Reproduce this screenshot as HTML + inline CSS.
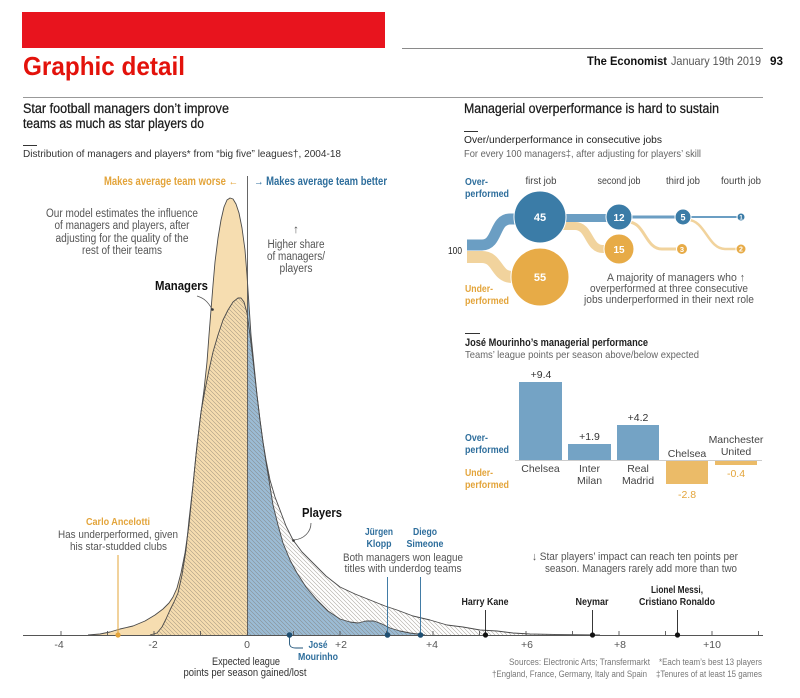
<!DOCTYPE html>
<html><head><meta charset="utf-8"><style>
html,body{margin:0;padding:0;background:#fff;}
svg{display:block;}
text{font-family:"Liberation Sans",Arial,sans-serif;}
</style></head><body>
<svg width="800" height="698" viewBox="0 0 800 698" xmlns="http://www.w3.org/2000/svg">
<defs>
<pattern id="h" patternUnits="userSpaceOnUse" width="4" height="4">
<path d="M-1,-1L5,5M-1,3L1,5M3,-1L5,1" stroke="#7a7266" stroke-width="0.6" opacity="0.62"/>
</pattern>
<clipPath id="cl"><rect x="0" y="0" width="247.5" height="640"/></clipPath>
<clipPath id="cr"><rect x="247.5" y="0" width="553" height="640"/></clipPath>
</defs>

<!-- Header -->
<rect x="22" y="12" width="363" height="36" fill="#e8141e"/>
<line x1="402" y1="48.5" x2="763" y2="48.5" stroke="#8a8a8a" stroke-width="1"/>
<text x="23" y="75" font-size="26" font-weight="bold" fill="#e3120b" textLength="162" lengthAdjust="spacingAndGlyphs">Graphic detail</text>
<text x="587" y="65" font-size="12" font-weight="bold" fill="#111" textLength="80" lengthAdjust="spacingAndGlyphs">The Economist</text>
<text x="671" y="65" font-size="12" fill="#555" textLength="90" lengthAdjust="spacingAndGlyphs">January 19th 2019</text>
<text x="770" y="65" font-size="12" font-weight="bold" fill="#111" textLength="13" lengthAdjust="spacingAndGlyphs">93</text>
<line x1="23" y1="97.5" x2="763" y2="97.5" stroke="#999" stroke-width="1"/>

<!-- Left titles -->
<text x="23" y="113" font-size="13.5" fill="#1a1a1a" stroke="#1a1a1a" stroke-width="0.25" textLength="206" lengthAdjust="spacingAndGlyphs">Star football managers don’t improve</text>
<text x="23" y="128" font-size="13.5" fill="#1a1a1a" stroke="#1a1a1a" stroke-width="0.25" textLength="181" lengthAdjust="spacingAndGlyphs">teams as much as star players do</text>
<line x1="23" y1="145.5" x2="37" y2="145.5" stroke="#333" stroke-width="1"/>
<text x="23" y="157" font-size="10.5" fill="#333" textLength="318" lengthAdjust="spacingAndGlyphs">Distribution of managers and players* from “big five” leagues†, 2004-18</text>

<!-- Right titles -->
<text x="464" y="113" font-size="13.5" fill="#1a1a1a" stroke="#1a1a1a" stroke-width="0.25" textLength="255" lengthAdjust="spacingAndGlyphs">Managerial overperformance is hard to sustain</text>
<line x1="464" y1="131.5" x2="478" y2="131.5" stroke="#333" stroke-width="1"/>
<text x="464" y="143" font-size="10.5" fill="#222" textLength="198" lengthAdjust="spacingAndGlyphs">Over/underperformance in consecutive jobs</text>
<text x="464" y="157" font-size="10.5" fill="#666" textLength="237" lengthAdjust="spacingAndGlyphs">For every 100 managers‡, after adjusting for players’ skill</text>

<!-- Density chart fills -->
<g>
<path clip-path="url(#cl)" fill="#f6ddb0" d="M88,635 L100,634 L110,632 L120,629 L133,626 L145,621 L155,615 L163,609 L169,603 L173,597 L177,588 L181,573 L185,553 L189,525 L192,495 L196,455 L200,420 L204,390 L207,362 L209,335 L211,310 L213,285 L215,262 L218,238 L221,220 L224,207 L227,200 L230,198 L233,199 L236,204 L239,213 L242,228 L245,250 L247,275 L249,305 L251,335 L254,365 L257,395 L260,420 L263,442 L266,462 L269,480 L273,505 L278,525 L283,543 L290,560 L297,573 L306,587 L317,600 L328,611 L340,619 L350,622 L358,623 L366,621 L374,621 L382,624 L390,628 L400,631 L410,633 L425,635 Z"/>
<path clip-path="url(#cr)" fill="#9bbcd5" d="M88,635 L100,634 L110,632 L120,629 L133,626 L145,621 L155,615 L163,609 L169,603 L173,597 L177,588 L181,573 L185,553 L189,525 L192,495 L196,455 L200,420 L204,390 L207,362 L209,335 L211,310 L213,285 L215,262 L218,238 L221,220 L224,207 L227,200 L230,198 L233,199 L236,204 L239,213 L242,228 L245,250 L247,275 L249,305 L251,335 L254,365 L257,395 L260,420 L263,442 L266,462 L269,480 L273,505 L278,525 L283,543 L290,560 L297,573 L306,587 L317,600 L328,611 L340,619 L350,622 L358,623 L366,621 L374,621 L382,624 L390,628 L400,631 L410,633 L425,635 Z"/>
<path fill="url(#h)" d="M150,635 L157,633 L162,627 L166,619 L170,610 L174,602 L178,593 L182,575 L186,550 L189,520 L193,485 L197,445 L201,412 L205,390 L209,370 L213,352 L218,335 L223,320 L228,310 L233,302 L238,298 L241,298 L244,302 L247,313 L250,335 L253,360 L257,395 L260,420 L263,442 L266,460 L270,480 L275,497 L280,510 L286,526 L293,540 L302,552 L313,563 L326,576 L340,587 L355,594 L370,600 L385,606 L397,610 L413,616 L430,620 L447,625 L463,627 L480,630 L497,631 L513,633 L530,634 L560,634.6 L600,635 Z"/>
<path fill="none" stroke="#4a4a4a" stroke-width="0.9" stroke-linejoin="round" d="M88,635 L100,634 L110,632 L120,629 L133,626 L145,621 L155,615 L163,609 L169,603 L173,597 L177,588 L181,573 L185,553 L189,525 L192,495 L196,455 L200,420 L204,390 L207,362 L209,335 L211,310 L213,285 L215,262 L218,238 L221,220 L224,207 L227,200 L230,198 L233,199 L236,204 L239,213 L242,228 L245,250 L247,275 L249,305 L251,335 L254,365 L257,395 L260,420 L263,442 L266,462 L269,480 L273,505 L278,525 L283,543 L290,560 L297,573 L306,587 L317,600 L328,611 L340,619 L350,622 L358,623 L366,621 L374,621 L382,624 L390,628 L400,631 L410,633 L425,635"/>
<path fill="none" stroke="#4a4a4a" stroke-width="0.9" stroke-linejoin="round" d="M150,635 L157,633 L162,627 L166,619 L170,610 L174,602 L178,593 L182,575 L186,550 L189,520 L193,485 L197,445 L201,412 L205,390 L209,370 L213,352 L218,335 L223,320 L228,310 L233,302 L238,298 L241,298 L244,302 L247,313 L250,335 L253,360 L257,395 L260,420 L263,442 L266,460 L270,480 L275,497 L280,510 L286,526 L293,540 L302,552 L313,563 L326,576 L340,587 L355,594 L370,600 L385,606 L397,610 L413,616 L430,620 L447,625 L463,627 L480,630 L497,631 L513,633 L530,634 L560,634.6 L600,635"/>
</g>

<!-- zero line -->
<line x1="247.5" y1="176" x2="247.5" y2="635" stroke="#555" stroke-width="0.9"/>

<!-- axis -->
<line x1="23" y1="635.5" x2="763" y2="635.5" stroke="#555" stroke-width="1"/>
<g stroke="#555" stroke-width="0.9">
<line x1="61" y1="631" x2="61" y2="635"/><line x1="107.5" y1="631" x2="107.5" y2="635"/><line x1="154" y1="631" x2="154" y2="635"/><line x1="200.5" y1="631" x2="200.5" y2="635"/><line x1="247.5" y1="631" x2="247.5" y2="635"/><line x1="293.5" y1="631" x2="293.5" y2="635"/><line x1="340" y1="631" x2="340" y2="635"/><line x1="386.5" y1="631" x2="386.5" y2="635"/><line x1="433" y1="631" x2="433" y2="635"/><line x1="479.5" y1="631" x2="479.5" y2="635"/><line x1="526" y1="631" x2="526" y2="635"/><line x1="572.5" y1="631" x2="572.5" y2="635"/><line x1="619" y1="631" x2="619" y2="635"/><line x1="665.5" y1="631" x2="665.5" y2="635"/><line x1="712" y1="631" x2="712" y2="635"/><line x1="758.5" y1="631" x2="758.5" y2="635"/>
</g>
<g font-size="10.5" fill="#555" text-anchor="middle">
<text x="59" y="648">-4</text><text x="153" y="648">-2</text><text x="247" y="648">0</text><text x="341" y="648">+2</text><text x="432" y="648">+4</text><text x="527" y="648">+6</text><text x="620" y="648">+8</text><text x="712" y="648">+10</text>
</g>
<text x="246" y="665" font-size="11" fill="#333" text-anchor="middle" textLength="68" lengthAdjust="spacingAndGlyphs">Expected league</text>
<text x="245" y="676" font-size="11" fill="#333" text-anchor="middle" textLength="123" lengthAdjust="spacingAndGlyphs">points per season gained/lost</text>

<!-- left chart annotations -->
<text x="104" y="185" font-size="11.5" font-weight="bold" fill="#e3a43a" textLength="134" lengthAdjust="spacingAndGlyphs">Makes average team worse ←</text>
<text x="254" y="185" font-size="11.5" font-weight="bold" fill="#2e6e9c" textLength="133" lengthAdjust="spacingAndGlyphs">→ Makes average team better</text>
<g font-size="11.5" fill="#555" text-anchor="middle">
<text x="122" y="217" textLength="152" lengthAdjust="spacingAndGlyphs">Our model estimates the influence</text>
<text x="122" y="229" textLength="135" lengthAdjust="spacingAndGlyphs">of managers and players, after</text>
<text x="122" y="242" textLength="133" lengthAdjust="spacingAndGlyphs">adjusting for the quality of the</text>
<text x="122" y="254" textLength="80" lengthAdjust="spacingAndGlyphs">rest of their teams</text>
<text x="296" y="233">↑</text>
<text x="296" y="248" textLength="57" lengthAdjust="spacingAndGlyphs">Higher share</text>
<text x="296" y="260" textLength="58" lengthAdjust="spacingAndGlyphs">of managers/</text>
<text x="296" y="272" textLength="33" lengthAdjust="spacingAndGlyphs">players</text>
</g>
<text x="155" y="290" font-size="13" font-weight="bold" fill="#111" textLength="53" lengthAdjust="spacingAndGlyphs">Managers</text>
<path d="M197,296 C204,298 208,302 212,309" fill="none" stroke="#555" stroke-width="0.8"/>
<circle cx="212.5" cy="309.5" r="1.3" fill="#333"/>
<text x="302" y="517" font-size="13" font-weight="bold" fill="#111" textLength="40" lengthAdjust="spacingAndGlyphs">Players</text>
<path d="M311,523 C311,532 304,539 294,540" fill="none" stroke="#555" stroke-width="0.8"/>
<circle cx="293.5" cy="540.5" r="1.3" fill="#333"/>

<!-- Ancelotti -->
<text x="86" y="525" font-size="10.5" font-weight="bold" fill="#e3a43a" textLength="64" lengthAdjust="spacingAndGlyphs">Carlo Ancelotti</text>
<text x="58" y="538" font-size="11" fill="#555" textLength="120" lengthAdjust="spacingAndGlyphs">Has underperformed, given</text>
<text x="70" y="550" font-size="11" fill="#555" textLength="97" lengthAdjust="spacingAndGlyphs">his star-studded clubs</text>
<line x1="118" y1="555" x2="118" y2="635" stroke="#e3a43a" stroke-width="1"/>
<circle cx="118" cy="635" r="2.6" fill="#e3a43a"/>

<!-- Mourinho -->
<path d="M289.5,635 L289.5,643 C289.5,647 292,648 296,648 L303,648" fill="none" stroke="#1f5378" stroke-width="0.9"/>
<circle cx="289.5" cy="635" r="2.8" fill="#1f4f72"/>
<text x="318" y="648" font-size="10.5" font-weight="bold" fill="#2e6e9c" text-anchor="middle" textLength="19" lengthAdjust="spacingAndGlyphs">José</text>
<text x="318" y="660" font-size="10.5" font-weight="bold" fill="#2e6e9c" text-anchor="middle" textLength="40" lengthAdjust="spacingAndGlyphs">Mourinho</text>

<!-- Klopp / Simeone -->
<g font-size="10.5" font-weight="bold" fill="#2e6e9c" text-anchor="middle">
<text x="379" y="535" textLength="28" lengthAdjust="spacingAndGlyphs">Jürgen</text>
<text x="379" y="547" textLength="25" lengthAdjust="spacingAndGlyphs">Klopp</text>
<text x="425" y="535" textLength="24" lengthAdjust="spacingAndGlyphs">Diego</text>
<text x="425" y="547" textLength="37" lengthAdjust="spacingAndGlyphs">Simeone</text>
</g>
<text x="403" y="561" font-size="11" fill="#555" text-anchor="middle" textLength="120" lengthAdjust="spacingAndGlyphs">Both managers won league</text>
<text x="403" y="572" font-size="11" fill="#555" text-anchor="middle" textLength="117" lengthAdjust="spacingAndGlyphs">titles with underdog teams</text>
<line x1="387.5" y1="577" x2="387.5" y2="635" stroke="#2e6e9c" stroke-width="0.9"/>
<line x1="420.5" y1="577" x2="420.5" y2="635" stroke="#2e6e9c" stroke-width="0.9"/>
<circle cx="387.5" cy="635" r="2.8" fill="#1f4f72"/>
<circle cx="420.5" cy="635" r="2.8" fill="#1f4f72"/>

<!-- Star players note -->
<text x="532" y="560" font-size="11" fill="#555" textLength="206" lengthAdjust="spacingAndGlyphs">↓ Star players’ impact can reach ten points per</text>
<text x="545" y="572" font-size="11" fill="#555" textLength="192" lengthAdjust="spacingAndGlyphs">season. Managers rarely add more than two</text>

<!-- players points -->
<g font-size="10.5" font-weight="bold" fill="#222" text-anchor="middle">
<text x="485" y="605" textLength="47" lengthAdjust="spacingAndGlyphs">Harry Kane</text>
<text x="592" y="605" textLength="33" lengthAdjust="spacingAndGlyphs">Neymar</text>
<text x="677" y="593" textLength="52" lengthAdjust="spacingAndGlyphs">Lionel Messi,</text>
<text x="677" y="605" textLength="76" lengthAdjust="spacingAndGlyphs">Cristiano Ronaldo</text>
</g>
<g stroke="#222" stroke-width="0.9">
<line x1="485.5" y1="610" x2="485.5" y2="635"/>
<line x1="592.5" y1="610" x2="592.5" y2="635"/>
<line x1="677.5" y1="610" x2="677.5" y2="635"/>
</g>
<circle cx="485.5" cy="635" r="2.6" fill="#111"/>
<circle cx="592.5" cy="635" r="2.6" fill="#111"/>
<circle cx="677.5" cy="635" r="2.6" fill="#111"/>

<!-- Sources -->
<g font-size="9" fill="#777">
<text x="509" y="665" textLength="141" lengthAdjust="spacingAndGlyphs">Sources: Electronic Arts; Transfermarkt</text>
<text x="659" y="665" textLength="103" lengthAdjust="spacingAndGlyphs">*Each team’s best 13 players</text>
<text x="492" y="677" textLength="155" lengthAdjust="spacingAndGlyphs">†England, France, Germany, Italy and Spain</text>
<text x="656" y="677" textLength="106" lengthAdjust="spacingAndGlyphs">‡Tenures of at least 15 games</text>
</g>

<!-- Bubble chart -->
<g font-size="10.5" fill="#444" text-anchor="middle">
<text x="541" y="184" textLength="31" lengthAdjust="spacingAndGlyphs">first job</text>
<text x="619" y="184" textLength="43" lengthAdjust="spacingAndGlyphs">second job</text>
<text x="683" y="184" textLength="34" lengthAdjust="spacingAndGlyphs">third job</text>
<text x="741" y="184" textLength="40" lengthAdjust="spacingAndGlyphs">fourth job</text>
</g>
<text x="465" y="185" font-size="10.5" font-weight="bold" fill="#2e6e9c" textLength="23" lengthAdjust="spacingAndGlyphs">Over-</text>
<text x="465" y="197" font-size="10.5" font-weight="bold" fill="#2e6e9c" textLength="44" lengthAdjust="spacingAndGlyphs">performed</text>
<text x="465" y="292" font-size="10.5" font-weight="bold" fill="#e3a43a" textLength="28" lengthAdjust="spacingAndGlyphs">Under-</text>
<text x="465" y="304" font-size="10.5" font-weight="bold" fill="#e3a43a" textLength="44" lengthAdjust="spacingAndGlyphs">performed</text>
<text x="448" y="254" font-size="10.5" fill="#222" textLength="14" lengthAdjust="spacingAndGlyphs">100</text>

<g fill="none" stroke-linecap="butt">
<path d="M467,245 L482,245 C498,245 494,219 510,219 L540,219" stroke="#6b9ec3" stroke-width="11"/>
<path d="M467,257 L482,257 C498,257 496,277 512,277 L540,277" stroke="#f1d39d" stroke-width="12"/>
<path d="M560,218 L612,218" stroke="#6b9ec3" stroke-width="8"/>
<path d="M560,226 L575,226 C590,226 588,249 603,249 L612,249" stroke="#f1d39d" stroke-width="8"/>
<path d="M625,217 L680,217" stroke="#6b9ec3" stroke-width="3"/>
<path d="M628,222 C645,222 645,249 662,249 L680,249" stroke="#f1d39d" stroke-width="3"/>
<path d="M688,217 L740,217" stroke="#6b9ec3" stroke-width="2"/>
<path d="M688,220 C705,220 708,249 725,249 L740,249" stroke="#f1d39d" stroke-width="2.5"/>
</g>
<g stroke="#fff" stroke-width="1">
<circle cx="540" cy="217" r="26" fill="#3b7ca7"/>
<circle cx="540" cy="277" r="29" fill="#e7ab47"/>
<circle cx="619" cy="217" r="13" fill="#3b7ca7"/>
<circle cx="619" cy="249" r="15" fill="#e7ab47"/>
<circle cx="683" cy="217" r="8" fill="#3b7ca7"/>
<circle cx="682" cy="249" r="5.5" fill="#e7ab47"/>
<circle cx="741" cy="217" r="4" fill="#3b7ca7"/>
<circle cx="741" cy="249" r="5" fill="#e7ab47"/>
</g>
<g fill="#fff" text-anchor="middle" font-weight="bold">
<text x="540" y="221" font-size="11">45</text>
<text x="540" y="281" font-size="11">55</text>
<text x="619" y="221" font-size="10">12</text>
<text x="619" y="253" font-size="10">15</text>
<text x="683" y="220.5" font-size="9">5</text>
<text x="682" y="252" font-size="7.5">3</text>
<text x="741" y="219.5" font-size="6.5">1</text>
<text x="741" y="251.5" font-size="7">2</text>
</g>
<g font-size="11" fill="#555">
<text x="607" y="281" textLength="138" lengthAdjust="spacingAndGlyphs">A majority of managers who ↑</text>
<text x="590" y="292" textLength="158" lengthAdjust="spacingAndGlyphs">overperformed at three consecutive</text>
<text x="584" y="303" textLength="170" lengthAdjust="spacingAndGlyphs">jobs underperformed in their next role</text>
</g>

<!-- Bar chart -->
<line x1="465" y1="333.5" x2="480" y2="333.5" stroke="#333" stroke-width="1"/>
<text x="465" y="346" font-size="11" font-weight="bold" fill="#222" textLength="183" lengthAdjust="spacingAndGlyphs">José Mourinho’s managerial performance</text>
<text x="465" y="358" font-size="10.5" fill="#666" textLength="234" lengthAdjust="spacingAndGlyphs">Teams’ league points per season above/below expected</text>

<line x1="515" y1="460.5" x2="762" y2="460.5" stroke="#bbb" stroke-width="0.8"/>
<rect x="519" y="382" width="43" height="78" fill="#74a3c5"/>
<rect x="568" y="444" width="43" height="16" fill="#74a3c5"/>
<rect x="617" y="425" width="42" height="35" fill="#74a3c5"/>
<rect x="666" y="461" width="42" height="23" fill="#ebbb68"/>
<rect x="715" y="461" width="42" height="4" fill="#ebbb68"/>

<g font-size="10.5" fill="#333" text-anchor="middle">
<text x="541" y="378">+9.4</text>
<text x="589.5" y="440">+1.9</text>
<text x="638" y="421">+4.2</text>
</g>
<g font-size="10.5" fill="#e3a43a" text-anchor="middle">
<text x="687" y="498">-2.8</text>
<text x="736" y="477">-0.4</text>
</g>
<g font-size="10.5" fill="#444" text-anchor="middle">
<text x="540.5" y="472">Chelsea</text>
<text x="589.5" y="472">Inter</text>
<text x="589.5" y="484">Milan</text>
<text x="638" y="472">Real</text>
<text x="638" y="484">Madrid</text>
<text x="687" y="457">Chelsea</text>
<text x="736" y="443">Manchester</text>
<text x="736" y="455">United</text>
</g>
<text x="465" y="441" font-size="10.5" font-weight="bold" fill="#2e6e9c" textLength="23" lengthAdjust="spacingAndGlyphs">Over-</text>
<text x="465" y="453" font-size="10.5" font-weight="bold" fill="#2e6e9c" textLength="44" lengthAdjust="spacingAndGlyphs">performed</text>
<text x="465" y="476" font-size="10.5" font-weight="bold" fill="#e3a43a" textLength="28" lengthAdjust="spacingAndGlyphs">Under-</text>
<text x="465" y="488" font-size="10.5" font-weight="bold" fill="#e3a43a" textLength="44" lengthAdjust="spacingAndGlyphs">performed</text>
</svg>
</body></html>
